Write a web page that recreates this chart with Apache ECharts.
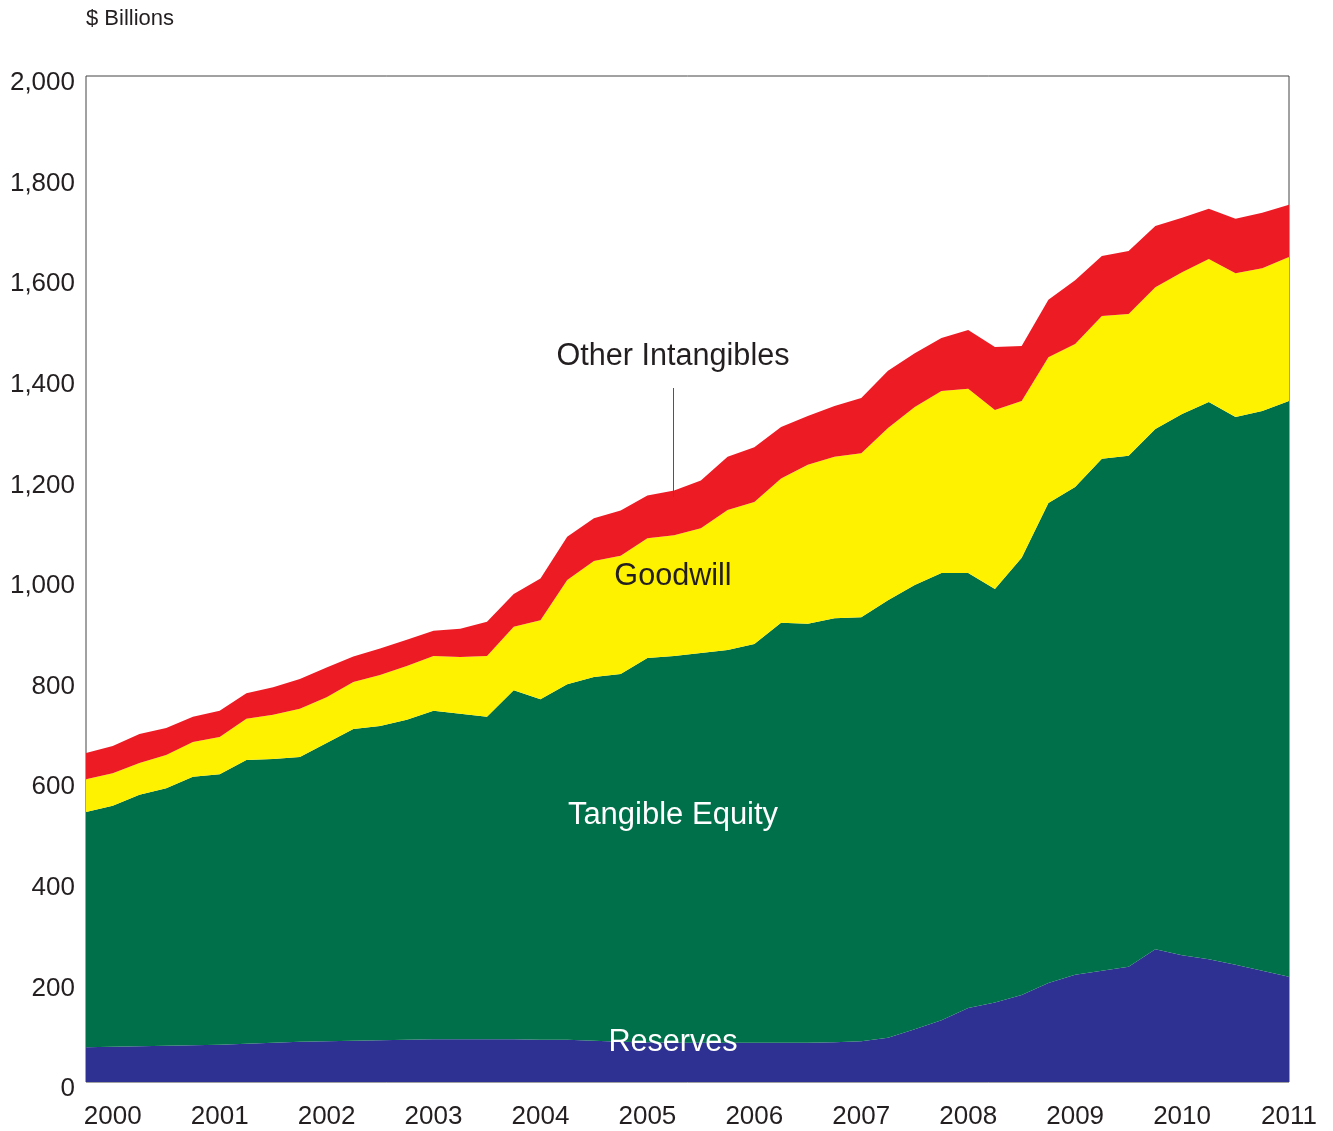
<!DOCTYPE html>
<html>
<head>
<meta charset="utf-8">
<script src="https://cdn.jsdelivr.net/npm/echarts@6/dist/echarts.min.js"></script>
<style>
html,body{margin:0;padding:0;background:#fff;}
#chart{width:1333px;height:1131px;}
</style>
</head>
<body>
<div id="chart"></div>
<script>
// Quarterly categories, 1999 Q4 .. 2011 Q1
const quarters = [];
(function(){
  quarters.push('1999 Q4');
  for (let y = 2000; y <= 2010; y++) for (let q = 1; q <= 4; q++) quarters.push(y + ' Q' + q);
  quarters.push('2011 Q1');
})();

const reserves = [69,70,71,72,73,74,76,78,80,81,82,83,84,85,85,85,85,84,84,82,80,79,78,78,78,78,78,78,79,81,88,105,123,147,158,173,197,213,221,229,264,252,244,233,221,209];
const tangibleEquity = [468,479,500,512,534,538,564,564,566,593,620,625,636,653,647,641,694,677,707,723,731,764,769,775,781,793,835,833,843,843,870,883,889,865,822,869,954,970,1018,1016,1034,1076,1108,1089,1113,1145];
const goodwill = [65,65,63,66,69,74,82,88,96,91,93,101,107,109,113,121,126,157,207,231,235,238,240,248,278,282,287,316,321,326,342,354,362,366,356,312,290,284,284,282,282,282,284,286,284,286];
const otherIntangibles = [52,54,58,54,50,52,51,55,59,59,51,53,52,50,56,68,65,83,86,85,90,85,89,95,106,109,102,97,101,110,114,107,105,117,125,109,114,127,119,125,122,108,100,108,110,104];

const yTicks = { min: 0, max: 2000, interval: 200 };

const chart = echarts.init(document.getElementById('chart'), null, { renderer: 'canvas' });
const FONT = 'Liberation Sans, Arial, Helvetica, sans-serif';
const TXT = '#231f20';

function areaSeries(name, data, color) {
  return {
    name: name, type: 'line', stack: 'total', data: data,
    showSymbol: false, symbol: 'none',
    lineStyle: { width: 0 },
    areaStyle: { color: color, opacity: 1 },
    itemStyle: { color: color },
    emphasis: { disabled: true },
    silent: true
  };
}

chart.setOption({
  animation: false,
  backgroundColor: '#ffffff',
  grid: { left: 86, right: 44, top: 76, bottom: 49, show: true, borderColor: '#444', borderWidth: 1, backgroundColor: 'transparent' },
  xAxis: {
    type: 'category', data: quarters, boundaryGap: false,
    axisLine: { show: false }, axisTick: { show: false }, splitLine: { show: false },
    axisLabel: {
      interval: function (i) { return i % 4 === 1; },
      formatter: function (v) { return v.slice(0, 4); },
      fontSize: 26, fontFamily: FONT, color: TXT, margin: 22
    }
  },
  yAxis: {
    type: 'value', min: yTicks.min, max: yTicks.max, interval: yTicks.interval,
    axisLine: { show: false }, axisTick: { show: false }, splitLine: { show: false },
    axisLabel: {
      formatter: function (v) { return v.toLocaleString('en-US'); },
      fontSize: 26, fontFamily: FONT, color: TXT, margin: 11,
      verticalAlign: 'top', lineHeight: 14
    }
  },
  series: [
    areaSeries('Reserves', reserves, '#2e3192'),
    areaSeries('Tangible Equity', tangibleEquity, '#00704a'),
    areaSeries('Goodwill', goodwill, '#fff200'),
    areaSeries('Other Intangibles', otherIntangibles, '#ed1c24')
  ],
  graphic: [
    { type: 'text', z: 100, left: 86, top: 8, style: { text: '$ Billions', font: '22px ' + FONT, fill: TXT } },
    { type: 'text', z: 100, x: 673, y: 357, style: { text: 'Other Intangibles', font: '30.6px ' + FONT, fill: TXT, textAlign: 'center', textVerticalAlign: 'middle' } },
    { type: 'text', z: 100, x: 673, y: 577, style: { text: 'Goodwill', font: '30.6px ' + FONT, fill: TXT, textAlign: 'center', textVerticalAlign: 'middle' } },
    { type: 'text', z: 100, x: 673, y: 815, style: { text: 'Tangible Equity', font: '31px ' + FONT, fill: '#ffffff', textAlign: 'center', textVerticalAlign: 'middle' } },
    { type: 'text', z: 100, x: 673, y: 1043, style: { text: 'Reserves', font: '30.6px ' + FONT, fill: '#ffffff', textAlign: 'center', textVerticalAlign: 'middle' } },
    { type: 'line', z: 100, shape: { x1: 673.5, y1: 388, x2: 673.5, y2: 497 }, style: { stroke: '#555', lineWidth: 1 } }
  ]
});
</script>
</body>
</html>
